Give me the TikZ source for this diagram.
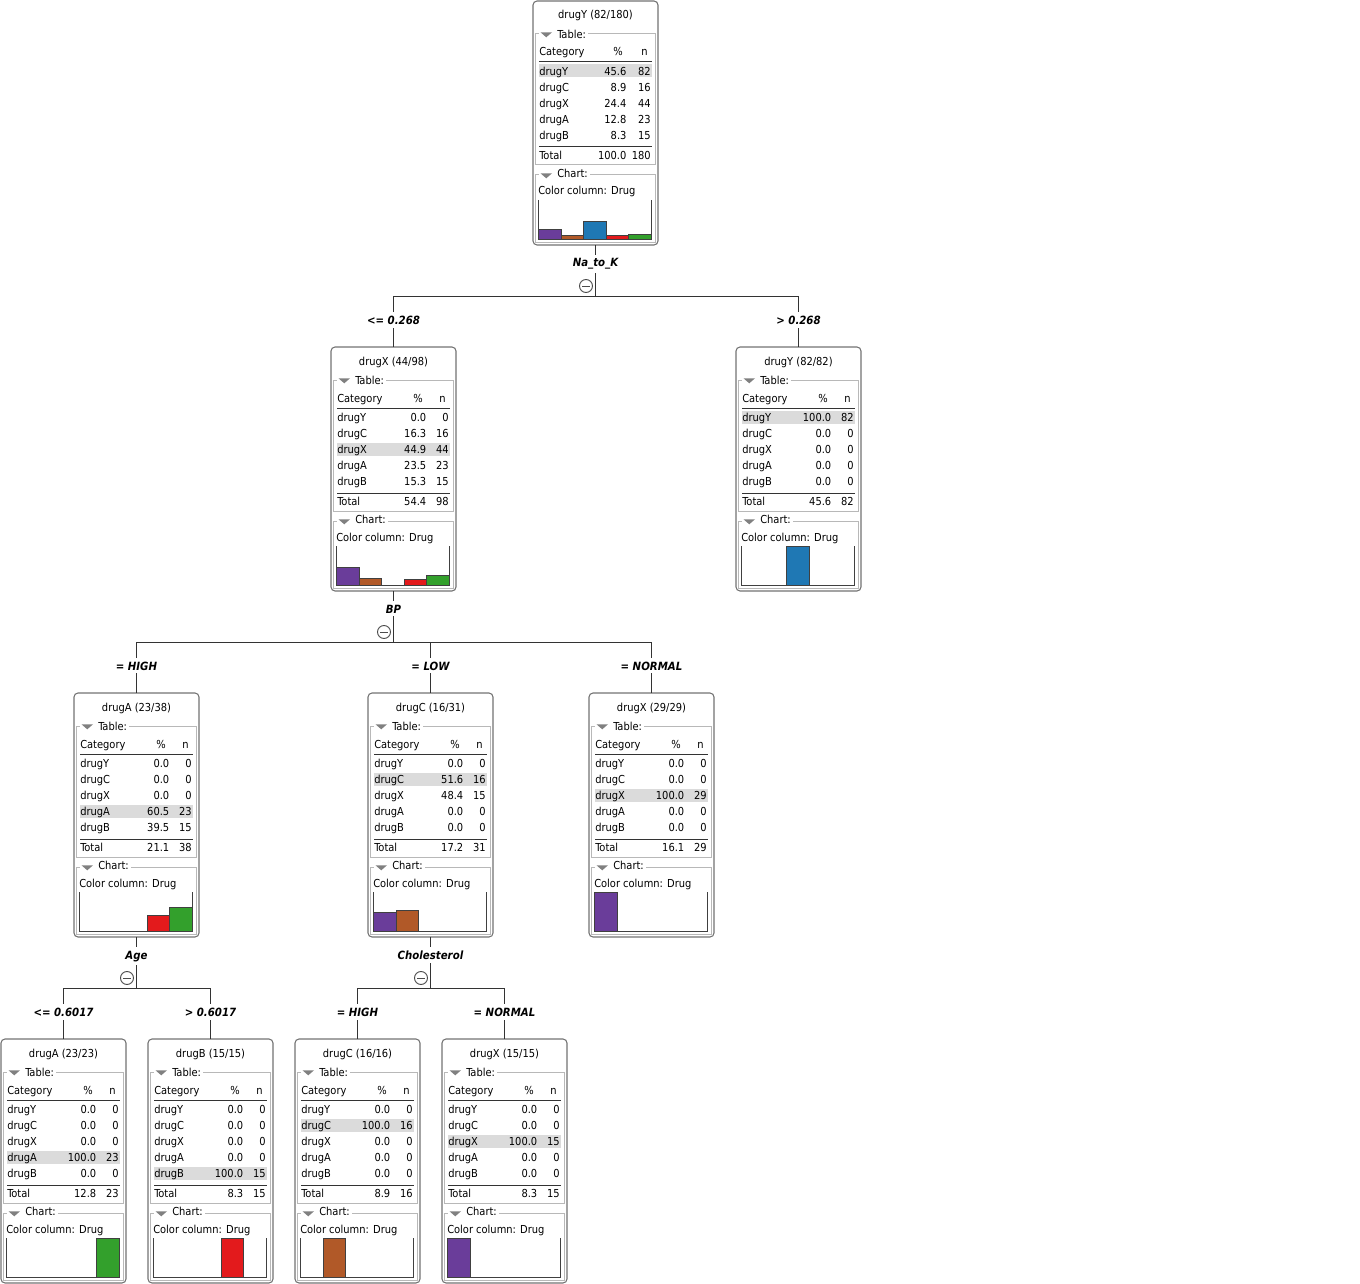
\documentclass[tikz,border=0pt]{standalone}
\usepackage{fontspec}
\setmainfont{DejaVu Sans Condensed}
\usetikzlibrary{calc}
\definecolor{cX}{HTML}{6A3D9A}
\definecolor{cC}{HTML}{B15928}
\definecolor{cY}{HTML}{1F78B4}
\definecolor{cB}{HTML}{E31A1C}
\definecolor{cA}{HTML}{33A02C}
\tikzset{
  px/.style={x=0.75pt,y=-0.75pt},
  nodebox/.style={draw=black!55, line width=0.8pt, rounded corners=3pt, fill=white,
    minimum width=93.75pt, minimum height=183pt, inner sep=0pt, outer sep=0pt},
  txt/.style={font=\fontsize{8.25}{10}\selectfont, inner sep=0pt},
  grplabel/.style={txt, fill=white, inner xsep=1.5pt, inner ysep=1pt, anchor=base west},
  framec/.style={draw=black!28, line width=0.75pt},
  rulec/.style={draw=black!80, line width=0.75pt},
  hlfill/.style={fill=black!14},
  tri/.style={fill=black!50},
  axisc/.style={draw=black!75, line width=0.75pt},
  barc/.style={draw=black!75, line width=0.75pt},
  conn/.style={draw=black!80, line width=0.75pt},
  attr/.style={font=\fontsize{8.5}{10}\selectfont\bfseries\itshape, fill=white, inner xsep=1pt, inner ysep=2.5pt},
  minuscirc/.style={circle, draw=black!70, line width=0.7pt, fill=white, minimum size=9.75pt, inner sep=0pt,
    path picture={\draw[black!70, line width=0.7pt] ([xshift=-3pt]path picture bounding box.center) -- ([xshift=3pt]path picture bounding box.center);}}
}
% name, left x, top y, title, highlighted row, pct right, pct header right
\newcommand\dtbegin[7]{%
  \node[nodebox, anchor=north west] (#1) at (#2,#3) {};
  \begin{scope}[shift={(#1.north west)}]
  \def\pctR{#6}\def\pctH{#7}%
  \fill[hlfill] (6,{63.5+16*(#5-1)}) rectangle (118.7,{76.5+16*(#5-1)});
  \draw[framec] (2.8,33) rectangle (122.3,164);
  \draw[framec] (2.8,174) rectangle (122.3,241.5);
  \node[txt, anchor=base] at (62.5,18) {#4};
  \fill[white] (5.5,30) rectangle (22.5,37);
  \fill[tri] (7.5,31.3) -- (19,31.3) -- (13.25,36.3) -- cycle;
  \node[grplabel] at (22,37.5) {Table:};
  \fill[white] (5.5,171) rectangle (22.5,178);
  \fill[tri] (7.5,172.3) -- (19,172.3) -- (13.25,177.3) -- cycle;
  \node[grplabel] at (22,176.5) {Chart:};
  \node[txt, anchor=base west] at (6,55) {Category};
  \node[txt, anchor=base east] at (\pctH,55) {\%};
  \node[txt, anchor=base east] at (115,55) {n};
  \draw[rulec] (6,61) -- (118.7,61);
  \draw[rulec] (6,146) -- (118.7,146);
  \node[txt, anchor=base west] at (5,194) {Color column: Drug};
}
\newcommand\dtrow[4]{%
  \node[txt, anchor=base west] at (6,{74.5+16*(#1-1)}) {#2};
  \node[txt, anchor=base east] at (\pctR,{74.5+16*(#1-1)}) {#3};
  \node[txt, anchor=base east] at (118,{74.5+16*(#1-1)}) {#4};
}
\newcommand\dttotal[2]{%
  \node[txt, anchor=base west] at (6,158.5) {Total};
  \node[txt, anchor=base east] at (\pctR,158.5) {#1};
  \node[txt, anchor=base east] at (118,158.5) {#2};
}
\newcommand\dtbar[3]{%
  \filldraw[barc, fill=#3] ({5.5+22.6*(#1-1)},238) rectangle ({5.5+22.6*#1},{238-0.39*#2});
}
\newcommand\dtend{%
  \draw[axisc] (5.5,199) -- (5.5,238) -- (118.5,238) -- (118.5,199);
  \end{scope}
}
\begin{document}
\begin{tikzpicture}[px]
\useasboundingbox (0,0) rectangle (1360,1284);

% ---------- root ----------
\dtbegin{root}{533}{1}{drugY (82/180)}{1}{93.7}{90}
\dtrow{1}{drugY}{45.6}{82}
\dtrow{2}{drugC}{8.9}{16}
\dtrow{3}{drugX}{24.4}{44}
\dtrow{4}{drugA}{12.8}{23}
\dtrow{5}{drugB}{8.3}{15}
\dttotal{100.0}{180}
\dtbar{1}{24.4}{cX}\dtbar{2}{8.9}{cC}\dtbar{3}{45.6}{cY}\dtbar{4}{8.3}{cB}\dtbar{5}{12.8}{cA}
\dtend

% ---------- level 2 ----------
\dtbegin{nX}{331}{347}{drugX (44/98)}{3}{95.5}{92}
\dtrow{1}{drugY}{0.0}{0}
\dtrow{2}{drugC}{16.3}{16}
\dtrow{3}{drugX}{44.9}{44}
\dtrow{4}{drugA}{23.5}{23}
\dtrow{5}{drugB}{15.3}{15}
\dttotal{54.4}{98}
\dtbar{1}{44.9}{cX}\dtbar{2}{16.3}{cC}\dtbar{4}{15.3}{cB}\dtbar{5}{23.5}{cA}
\dtend

\dtbegin{nY}{736}{347}{drugY (82/82)}{1}{95.5}{92}
\dtrow{1}{drugY}{100.0}{82}
\dtrow{2}{drugC}{0.0}{0}
\dtrow{3}{drugX}{0.0}{0}
\dtrow{4}{drugA}{0.0}{0}
\dtrow{5}{drugB}{0.0}{0}
\dttotal{45.6}{82}
\dtbar{3}{100}{cY}
\dtend

% ---------- level 3 ----------
\dtbegin{nA}{74}{693}{drugA (23/38)}{4}{95.5}{92}
\dtrow{1}{drugY}{0.0}{0}
\dtrow{2}{drugC}{0.0}{0}
\dtrow{3}{drugX}{0.0}{0}
\dtrow{4}{drugA}{60.5}{23}
\dtrow{5}{drugB}{39.5}{15}
\dttotal{21.1}{38}
\dtbar{4}{39.5}{cB}\dtbar{5}{60.5}{cA}
\dtend

\dtbegin{nC}{368}{693}{drugC (16/31)}{2}{95.5}{92}
\dtrow{1}{drugY}{0.0}{0}
\dtrow{2}{drugC}{51.6}{16}
\dtrow{3}{drugX}{48.4}{15}
\dtrow{4}{drugA}{0.0}{0}
\dtrow{5}{drugB}{0.0}{0}
\dttotal{17.2}{31}
\dtbar{1}{48.4}{cX}\dtbar{2}{51.6}{cC}
\dtend

\dtbegin{nXb}{589}{693}{drugX (29/29)}{3}{95.5}{92}
\dtrow{1}{drugY}{0.0}{0}
\dtrow{2}{drugC}{0.0}{0}
\dtrow{3}{drugX}{100.0}{29}
\dtrow{4}{drugA}{0.0}{0}
\dtrow{5}{drugB}{0.0}{0}
\dttotal{16.1}{29}
\dtbar{1}{100}{cX}
\dtend

% ---------- level 4 ----------
\dtbegin{lA}{1}{1039}{drugA (23/23)}{4}{95.5}{92}
\dtrow{1}{drugY}{0.0}{0}
\dtrow{2}{drugC}{0.0}{0}
\dtrow{3}{drugX}{0.0}{0}
\dtrow{4}{drugA}{100.0}{23}
\dtrow{5}{drugB}{0.0}{0}
\dttotal{12.8}{23}
\dtbar{5}{100}{cA}
\dtend

\dtbegin{lB}{148}{1039}{drugB (15/15)}{5}{95.5}{92}
\dtrow{1}{drugY}{0.0}{0}
\dtrow{2}{drugC}{0.0}{0}
\dtrow{3}{drugX}{0.0}{0}
\dtrow{4}{drugA}{0.0}{0}
\dtrow{5}{drugB}{100.0}{15}
\dttotal{8.3}{15}
\dtbar{4}{100}{cB}
\dtend

\dtbegin{lC}{295}{1039}{drugC (16/16)}{2}{95.5}{92}
\dtrow{1}{drugY}{0.0}{0}
\dtrow{2}{drugC}{100.0}{16}
\dtrow{3}{drugX}{0.0}{0}
\dtrow{4}{drugA}{0.0}{0}
\dtrow{5}{drugB}{0.0}{0}
\dttotal{8.9}{16}
\dtbar{2}{100}{cC}
\dtend

\dtbegin{lX}{442}{1039}{drugX (15/15)}{3}{95.5}{92}
\dtrow{1}{drugY}{0.0}{0}
\dtrow{2}{drugC}{0.0}{0}
\dtrow{3}{drugX}{100.0}{15}
\dtrow{4}{drugA}{0.0}{0}
\dtrow{5}{drugB}{0.0}{0}
\dttotal{8.3}{15}
\dtbar{1}{100}{cX}
\dtend

% ---------- connectors ----------
\draw[conn] (root.south) -- ++(0,51) coordinate (hroot);
\draw[conn] (hroot) -| (nX.north);
\draw[conn] (hroot) -| (nY.north);

\draw[conn] (nX.south) -- ++(0,51) coordinate (hbp);
\draw[conn] (hbp) -| (nA.north);
\draw[conn] (hbp) -| (nC.north);
\draw[conn] (hbp) -| (nXb.north);

\draw[conn] (nA.south) -- ++(0,51) coordinate (hage);
\draw[conn] (hage) -| (lA.north);
\draw[conn] (hage) -| (lB.north);

\draw[conn] (nC.south) -- ++(0,51) coordinate (hchol);
\draw[conn] (hchol) -| (lC.north);
\draw[conn] (hchol) -| (lX.north);

% ---------- split labels ----------
\node[attr, anchor=base] (aroot) at ($(root.south)+(0,22)$) {Na\_to\_K};
\node[attr, anchor=base] (abp) at ($(nX.south)+(0,22)$) {BP};
\node[attr, anchor=base] (aage) at ($(nA.south)+(0,22)$) {Age};
\node[attr, anchor=base] (achol) at ($(nC.south)+(0,22)$) {Cholesterol};

\node[minuscirc] (mroot) at ($(root.south)+(-9.5,41)$) {};
\node[minuscirc] (mbp) at ($(nX.south)+(-9.5,41)$) {};
\node[minuscirc] (mage) at ($(nA.south)+(-9.5,41)$) {};
\node[minuscirc] (mchol) at ($(nC.south)+(-9.5,41)$) {};

% ---------- edge labels ----------
\node[attr, anchor=base] (e1) at ($(nX.north)+(0,-23)$) {<= 0.268};
\node[attr, anchor=base] (e2) at ($(nY.north)+(0,-23)$) {> 0.268};
\node[attr, anchor=base] (e3) at ($(nA.north)+(0,-23)$) {= HIGH};
\node[attr, anchor=base] (e4) at ($(nC.north)+(0,-23)$) {= LOW};
\node[attr, anchor=base] (e5) at ($(nXb.north)+(0,-23)$) {= NORMAL};
\node[attr, anchor=base] (e6) at ($(lA.north)+(0,-23)$) {<= 0.6017};
\node[attr, anchor=base] (e7) at ($(lB.north)+(0,-23)$) {> 0.6017};
\node[attr, anchor=base] (e8) at ($(lC.north)+(0,-23)$) {= HIGH};
\node[attr, anchor=base] (e9) at ($(lX.north)+(0,-23)$) {= NORMAL};
\end{tikzpicture}
\end{document}
